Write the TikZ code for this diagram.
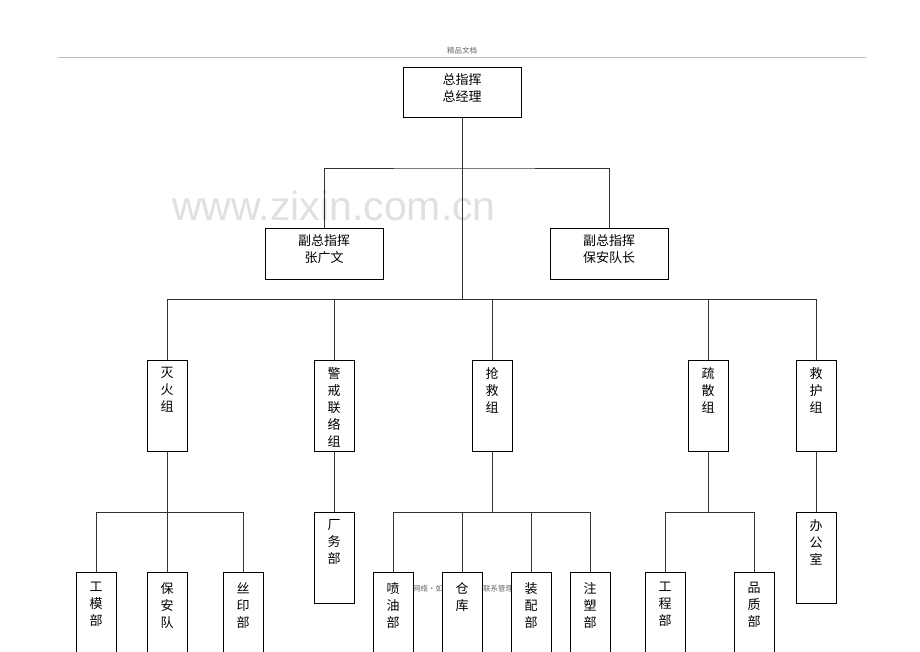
\documentclass[tikz,border=0pt]{standalone}
\usepackage{fontspec}
\setmainfont{Noto Sans CJK SC}
\newfontfamily\markfont{Liberation Sans}
\usepackage{xcolor}
\usepackage{tikz}
\usetikzlibrary{positioning}

\newcommand{\vtext}[2][7pt]{\parbox[t][91pt][t]{40pt}{\centering\vspace*{#1}#2}}
\newcommand{\htext}[2][50pt]{\parbox[t][#1][t]{118pt}{\centering\vspace*{7pt}#2}}

\begin{document}
\begin{tikzpicture}[
    x=1pt, y=-1pt,
    font=\fontsize{13}{17}\selectfont,
    lead/.style={rectangle, draw=black, fill=white, line width=0.8pt, inner sep=0pt},
    unit/.style={rectangle, draw=black, fill=white, line width=0.8pt, inner sep=0pt, anchor=north},
    link/.style={draw=black!80, line width=0.8pt},
    note/.style={text=black!60, font=\fontsize{7.5}{9}\selectfont}
]
\useasboundingbox (0,0) rectangle (920,651);

% Page header, footer and watermark
\node[note] (head) at (462,51) {精品文档};
\draw[black!25, line width=0.8pt] (58,57) -- (866,57);
\node[text=black!12, font=\markfont\fontsize{41}{45}\selectfont] (mark) at (334,206) {www.zixin.com.cn};
\node[note, anchor=west, inner sep=0pt] (foot1) at (413,589) {网络·如};
\node[note, anchor=west, inner sep=0pt] (foot2) at (483,589) {联系管理};

% Bus coordinates
\coordinate (b1) at (462,168);
\coordinate (b2) at (462,299);
\coordinate (b3) at (0,512);

% Commanders
\node[lead] (zong) at (462,92) {\htext{总指挥\\总经理}};
\node[lead] (fu1) at (324,253.5) {\htext[51pt]{副总指挥\\张广文}};
\node[lead] (fu2) at (609,253.5) {\htext[51pt]{副总指挥\\保安队长}};

% Groups
\node[unit] (mie) at (167,360) {\vtext{灭\\火\\组}};
\node[unit] (jing) at (334,360) {\vtext{警\\戒\\联\\络\\组}};
\node[unit] (qiang) at (492,360) {\vtext{抢\\救\\组}};
\node[unit] (shu) at (708,360) {\vtext{疏\\散\\组}};
\node[unit] (hu) at (816,360) {\vtext{救\\护\\组}};

% Departments
\node[unit] (gm) at (96,572) {\vtext[10pt]{工\\模\\部}};
\node[unit, below=120pt of mie] (ba) {\vtext[10pt]{保\\安\\队}};
\node[unit] (sy) at (243,572) {\vtext[10pt]{丝\\印\\部}};
\node[unit, below=60pt of jing] (cw) {\vtext{厂\\务\\部}};
\node[unit] (pen) at (393,572) {\vtext[10pt]{喷\\油\\部}};
\node[unit] (cang) at (462,572) {\vtext[10pt]{仓\\库}};
\node[unit] (zp) at (531,572) {\vtext[10pt]{装\\配\\部}};
\node[unit] (zs) at (590,572) {\vtext[10pt]{注\\塑\\部}};
\node[unit] (gc) at (665,572) {\vtext[10pt]{工\\程\\部}};
\node[unit] (pz) at (754,572) {\vtext[10pt]{品\\质\\部}};
\node[unit, below=60pt of hu] (bg) {\vtext{办\\公\\室}};

% Connectors
\draw[link] (zong.south) -- (b2);
\draw[link] (fu1.north) |- (b1) -| (fu2.north);
\draw[link] (mie.north) |- (hu.north |- b2) -- (hu.north);
\draw[link] (jing.north) -- (jing.north |- b2);
\draw[link] (qiang.north) -- (qiang.north |- b2);
\draw[link] (shu.north) -- (shu.north |- b2);
\draw[link] (gm.north) |- (sy.north |- b3) -- (sy.north);
\draw[link] (mie.south) -- (ba.north);
\draw[link] (jing.south) -- (cw.north);
\draw[link] (pen.north) |- (zs.north |- b3) -- (zs.north);
\draw[link] (qiang.south) -- (qiang.south |- b3);
\draw[link] (cang.north) -- (cang.north |- b3);
\draw[link] (zp.north) -- (zp.north |- b3);
\draw[link] (gc.north) |- (pz.north |- b3) -- (pz.north);
\draw[link] (shu.south) -- (shu.south |- b3);
\draw[link] (hu.south) -- (bg.north);

\end{tikzpicture}
\end{document}
